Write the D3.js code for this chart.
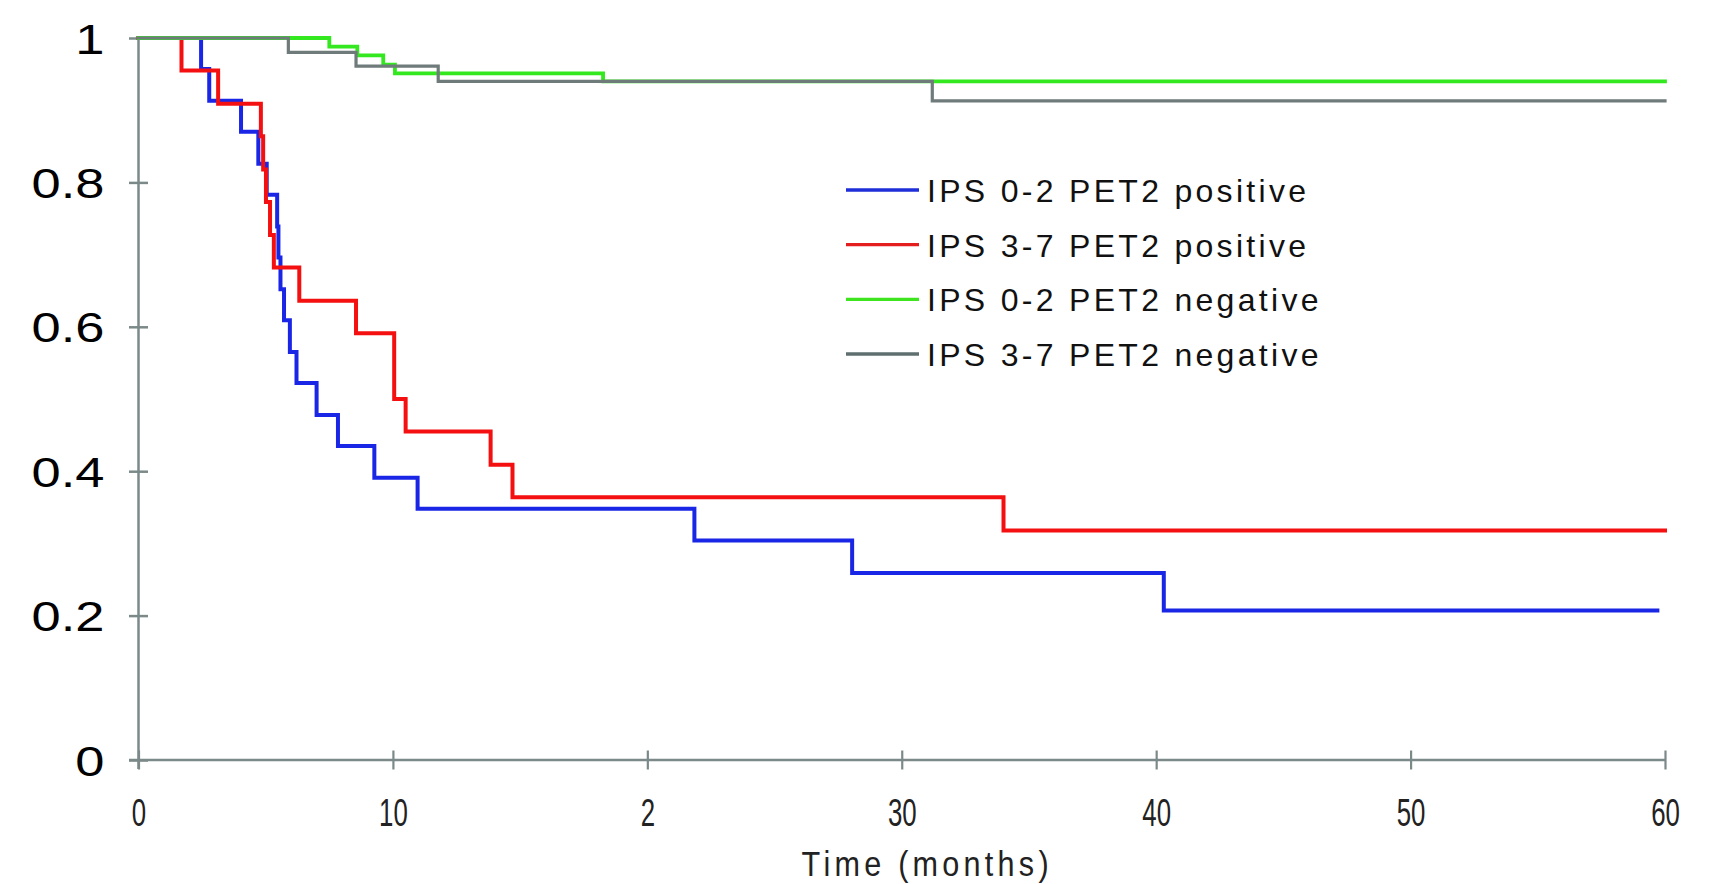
<!DOCTYPE html>
<html>
<head>
<meta charset="utf-8">
<script src="https://cdn.jsdelivr.net/npm/d3@7"></script>
<style>
  html, body { margin: 0; padding: 0; background: #fff; }
  svg { display: block; }
</style>
</head>
<body>
<svg id="chart" width="1710" height="884"></svg>
<script>
// ---- data ----
const seriesNames = ["IPS 0-2 PET2 positive", "IPS 3-7 PET2 positive", "IPS 0-2 PET2 negative", "IPS 3-7 PET2 negative"];

const blueTimes = [0, 2.46, 2.78, 4.03, 4.71, 5.04, 5.45, 5.5, 5.58, 5.72, 5.95, 6.21, 7.0, 7.84, 9.27, 10.97, 21.85, 28.05, 40.3, 59.7];
const blueSurv  = [1, 0.957, 0.913, 0.870, 0.826, 0.783, 0.739, 0.696, 0.652, 0.609, 0.565, 0.522, 0.478, 0.435, 0.391, 0.348, 0.304, 0.259, 0.207, 0.207];

const redTimes = [0, 1.69, 3.13, 4.81, 4.9, 5.01, 5.17, 5.32, 6.32, 8.55, 10.05, 10.5, 13.84, 14.7, 34.0, 60];
const redSurv  = [1, 0.955, 0.909, 0.864, 0.818, 0.773, 0.727, 0.682, 0.636, 0.591, 0.5, 0.455, 0.409, 0.364, 0.318, 0.318];

const greenTimes = [0, 7.5, 8.6, 9.62, 10.08, 18.26, 60];
const greenSurv  = [1, 0.988, 0.976, 0.963, 0.951, 0.94, 0.94];

const grayTimes = [0, 5.89, 8.55, 11.78, 31.2, 60];
const graySurv  = [1, 0.980, 0.961, 0.94, 0.913, 0.913];

const xTickValues = [0, 10, 20, 30, 40, 50, 60];
const xTickLabels = ["0", "10", "2", "30", "40", "50", "60"];
const yTickValues = [0, 0.2, 0.4, 0.6, 0.8, 1];
const yTickLabels = ["0", "0.2", "0.4", "0.6", "0.8", "1"];
const xTitle = "Time (months)";

// ---- layout ----
const svg = d3.select("#chart");
const x = d3.scaleLinear().domain([0, 60]).range([138.5, 1665]);
const y = d3.scaleLinear().domain([0, 1]).range([760, 38]);
const axisColor = "#7b8989";

// y axis
const yAxis = d3.axisLeft(y).tickValues(yTickValues)
  .tickFormat((d, i) => yTickLabels[i]).tickSize(9).tickPadding(0);
const gy = svg.append("g").attr("transform", `translate(${x(0)},0)`).call(yAxis);
gy.select(".domain").remove();
gy.selectAll(".tick line").attr("x1", -9.5).attr("x2", 9.5)
  .attr("stroke", axisColor).attr("stroke-width", 2.5);
gy.selectAll(".tick text")
  .attr("x", null).attr("dy", null)
  .attr("fill", "#000")
  .style("font-family", "'Liberation Sans', Arial, sans-serif")
  .style("font-size", "43px")
  .attr("text-anchor", "end")
  .attr("transform", "translate(-34,15) scale(1.22,1)");
gy.append("line").attr("x1", 0).attr("x2", 0).attr("y1", y(1)).attr("y2", y(0) + 9)
  .attr("stroke", axisColor).attr("stroke-width", 2.5);

// x axis
const xAxis = d3.axisBottom(x).tickValues(xTickValues)
  .tickFormat((d, i) => xTickLabels[i]).tickSize(9).tickPadding(0);
const gx = svg.append("g").attr("transform", `translate(0,${y(0)})`).call(xAxis);
gx.select(".domain").remove();
gx.selectAll(".tick line").attr("y1", -9.5).attr("y2", 9.5)
  .attr("stroke", axisColor).attr("stroke-width", 2.2);
gx.selectAll(".tick text")
  .attr("y", null).attr("dy", null)
  .attr("fill", "#222")
  .style("font-family", "'Liberation Sans', Arial, sans-serif")
  .style("font-size", "38px")
  .attr("text-anchor", "middle")
  .attr("transform", "translate(0,66) scale(0.68,1)");
gx.append("line").attr("x1", x(0) - 9.5).attr("x2", x(60)).attr("y1", 0).attr("y2", 0)
  .attr("stroke", axisColor).attr("stroke-width", 2.5);

// axis title
svg.append("text")
  .attr("transform", `translate(${x(31)},876) scale(0.85,1)`)
  .attr("text-anchor", "middle")
  .attr("fill", "#222")
  .style("font-family", "'Liberation Sans', Arial, sans-serif")
  .style("font-size", "36px")
  .style("letter-spacing", "5px")
  .text(xTitle);

// curves
const series = [
  { times: blueTimes,  surv: blueSurv,  color: "#1a26e6", width: 4.0 },
  { times: redTimes,   surv: redSurv,   color: "#f41010", width: 4.0 },
  { times: greenTimes, surv: greenSurv, color: "#33e81e", width: 3.8 },
  { times: grayTimes,  surv: graySurv,  color: "#6f7a7a", width: 3.2 }
];
const line = d3.line().x(d => x(d[0])).y(d => y(d[1])).curve(d3.curveStepAfter);
series.forEach(s => {
  svg.append("path")
    .datum(s.times.map((t, i) => [t, s.surv[i]]))
    .attr("d", line)
    .attr("fill", "none")
    .attr("stroke", s.color)
    .attr("stroke-width", s.width)
    .attr("stroke-linejoin", "miter")
    .attr("stroke-linecap", "square");
});

// legend
const legendColors = ["#1e2ed8", "#e41e1e", "#3ee41e", "#5f6f6f"];
const lg = svg.append("g");
const legY = d3.scalePoint().domain(seriesNames).range([190, 354]);
seriesNames.forEach((name, i) => {
  lg.append("line").attr("x1", 846).attr("x2", 919)
    .attr("y1", legY(name)).attr("y2", legY(name))
    .attr("stroke", legendColors[i]).attr("stroke-width", 3.4);
  lg.append("text").attr("x", 927).attr("y", legY(name) + 12)
    .attr("fill", "#111")
    .style("font-family", "'Liberation Sans', Arial, sans-serif")
    .style("font-size", "32px")
    .style("letter-spacing", "3.3px")
    .text(name);
});
</script>
</body>
</html>
